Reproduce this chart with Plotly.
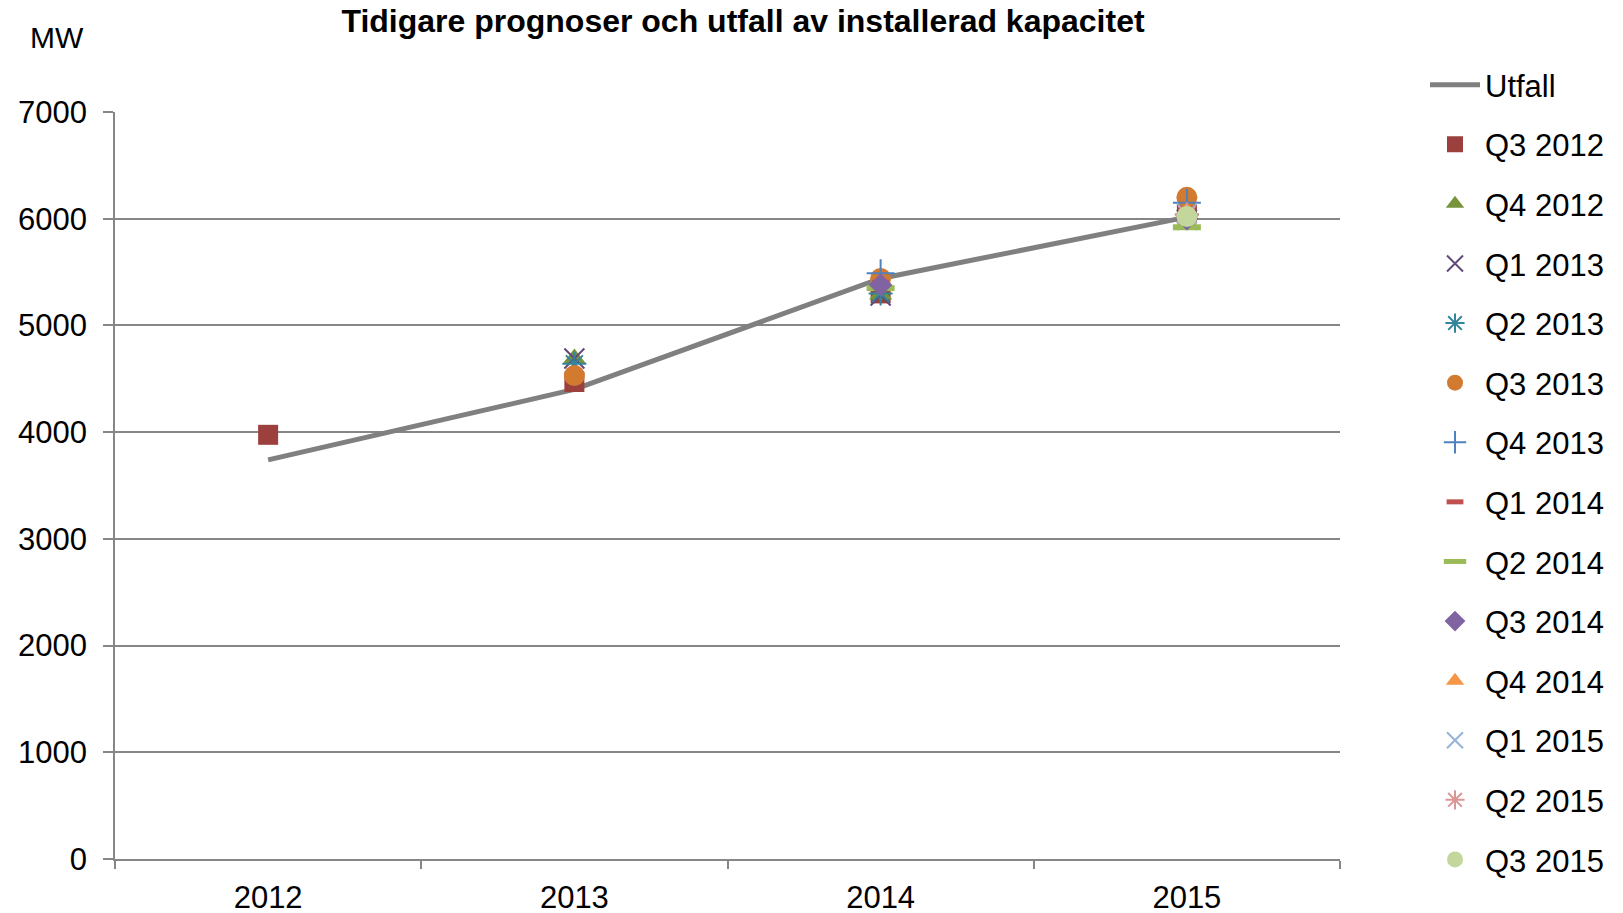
import plotly.graph_objects as go

years = ["2012", "2013", "2014", "2015"]
utfall = [3740, 4400, 5440, 6015]

# forecast series values per year (None = no value)
q3_2012 = [3975, 4470, 5300, 6050]
q4_2012 = [None, 4690, 5290, 5960]
q1_2013 = [None, 4690, 5280, 5990]
q2_2013 = [None, 4640, 5300, 6040]
q3_2013 = [None, 4530, 5440, 6200]
q4_2013 = [None, None, 5490, 6150]
q1_2014 = [None, None, 5400, 6080]
q2_2014 = [None, None, 5350, 5920]
q3_2014 = [None, None, 5380, 6000]
q4_2014 = [None, None, None, 6060]
q1_2015 = [None, None, None, 6050]
q2_2015 = [None, None, None, 6040]
q3_2015 = [None, None, None, 6020]

series = [
    ("Q3 2012", q3_2012, "square", "#9B403D", 20, 0),
    ("Q4 2012", q4_2012, "triangle-up", "#77933C", 20, 0),
    ("Q1 2013", q1_2013, "x-thin-open", "#604A7B", 20, 2),
    ("Q2 2013", q2_2013, "asterisk-open", "#31859C", 20, 2),
    ("Q3 2013", q3_2013, "circle", "#D27B30", 21, 0),
    ("Q4 2013", q4_2013, "cross-thin-open", "#4F81BD", 20, 2),
    ("Q1 2014", q1_2014, "line-ew-open", "#C0504D", 12, 6),
    ("Q2 2014", q2_2014, "line-ew-open", "#9BBB59", 20, 6),
    ("Q3 2014", q3_2014, "diamond", "#8064A2", 18, 0),
    ("Q4 2014", q4_2014, "triangle-up", "#F79646", 20, 0),
    ("Q1 2015", q1_2015, "x-thin-open", "#95B3D7", 20, 2),
    ("Q2 2015", q2_2015, "asterisk-open", "#D99694", 20, 2),
    ("Q3 2015", q3_2015, "circle", "#C3D69B", 21, 0),
]

FONT = "Liberation Sans, Arial, sans-serif"
W, H = 1623, 913
ML, MR, MT, MB = 115, 283, 112, 54
PW, PH = W - ML - MR, H - MT - MB


def px_x(x):
    return (x - ML) / PW


def px_y(y):
    return (H - MB - y) / PH


fig = go.Figure()
fig.add_trace(go.Scatter(
    x=years, y=utfall, mode="lines", name="Utfall",
    line=dict(color="#808080", width=5),
    legendgroup="Utfall",
))
for name, vals, sym, col, size, lw in series:
    xs = [y for y, v in zip(years, vals) if v is not None]
    ys = [v for v in vals if v is not None]
    fig.add_trace(go.Scatter(
        x=xs, y=ys, mode="markers", name=name, legendgroup=name,
        marker=dict(symbol=sym, color=col, size=size,
                    line=dict(color=col, width=lw)),
    ))

fig.update_layout(
    width=W, height=H,
    margin=dict(l=ML, r=MR, t=MT, b=MB, autoexpand=False),
    paper_bgcolor="white", plot_bgcolor="white",
    font=dict(family=FONT, size=31, color="black"),
    title=dict(text="<b>Tidigare prognoser och utfall av installerad kapacitet</b>",
               x=743 / W, xanchor="center", y=1 - 21 / H, yanchor="middle",
               font=dict(size=32, family=FONT, color="black")),
    showlegend=True,
    legend=dict(x=px_x(1425), xanchor="left", y=px_y(58), yanchor="top",
                traceorder="grouped", tracegroupgap=16.3, itemwidth=50,
                maxheight=900,
                font=dict(size=31, family=FONT), bgcolor="rgba(0,0,0,0)"),
    xaxis=dict(type="category", range=[-0.5, 3.5], tickson="boundaries",
               ticks="outside", ticklen=8, tickcolor="#868686", tickwidth=1.5,
               showline=True, linecolor="#868686", linewidth=1.5,
               showgrid=False, zeroline=False, tickfont=dict(size=31),
               ticklabelstandoff=10, automargin=False),
    yaxis=dict(range=[0, 7000], dtick=1000, ticks="outside", ticklen=10,
               tickcolor="#868686", tickwidth=1.5,
               showline=True, linecolor="#868686", linewidth=1.5,
               showgrid=True, gridcolor="#868686", gridwidth=1.5,
               zeroline=False, tickfont=dict(size=31), ticklabelstandoff=10,
               automargin=False),
    annotations=[dict(text="MW", xref="paper", yref="paper",
                      x=px_x(57), y=px_y(37), xanchor="center", yanchor="middle",
                      showarrow=False, font=dict(size=30, family=FONT))],
)

fig.write_html("out.html", config={"displayModeBar": False},
               post_script="document.body.style.margin='0';")
